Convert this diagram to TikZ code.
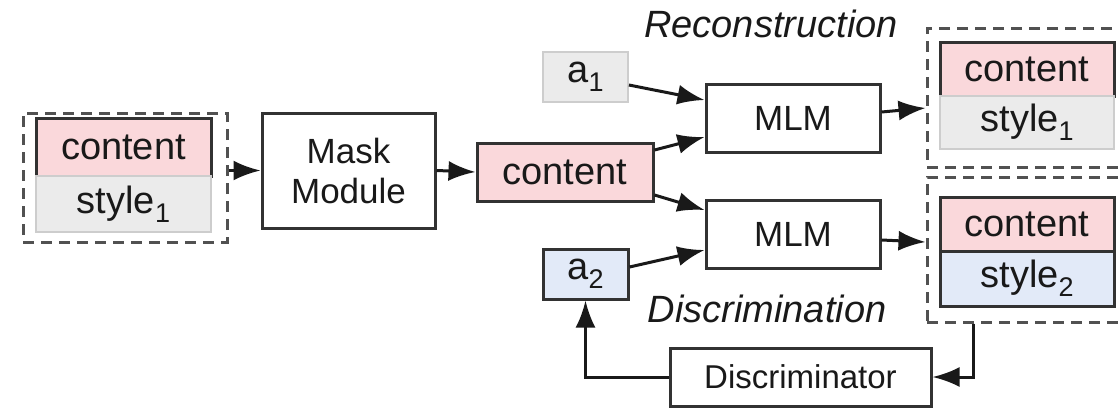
\documentclass[tikz,border=0pt]{standalone}
\usepackage{fontspec}
\setmainfont{Liberation Sans}
\usetikzlibrary{arrows.meta,calc}
\definecolor{pinkc}{RGB}{250,216,219}
\definecolor{grayc}{RGB}{235,235,235}
\definecolor{bluec}{RGB}{226,234,248}
\definecolor{edgec}{RGB}{50,50,50}
\definecolor{lightedge}{RGB}{205,205,205}
\definecolor{txt}{RGB}{25,25,25}
\newcommand\mysub[1]{\raisebox{-0.24em}{\fontsize{27}{27}\selectfont #1}}
\tikzset{
  box/.style={draw=edgec, line width=3pt, inner sep=0pt, align=center, text=txt,
    font=\fontsize{36}{40}\selectfont},
  pinkbox/.style={box, fill=pinkc, font=\fontsize{38}{40}\selectfont},
  graybox/.style={box, fill=grayc, draw=lightedge, line width=1.8pt, font=\fontsize{38}{40}\selectfont},
  bluebox/.style={box, fill=bluec, font=\fontsize{38}{40}\selectfont},
  group/.style={draw=edgec!85, line width=3pt, dash pattern=on 11pt off 7pt},
  arr/.style={draw=black!90, line width=3pt, -{Latex[length=27pt,width=20pt]}},
  label/.style={font=\fontsize{38}{40}\selectfont\itshape, text=txt}
}
\begin{document}
\begin{tikzpicture}[x=1pt,y=-1pt]
\useasboundingbox (0,0) rectangle (1119,408);
\fill[white] (0,0) rectangle (1119,408);
\begin{scope}
\clip (0,0) rectangle (1119,408);
% input group
\node[group, minimum width=204pt, minimum height=129pt] (inG) at (125,177.5) {};
\node[pinkbox, minimum width=175pt, minimum height=58pt] (inC) at (123.5,147) {content};
\node[graybox, minimum width=175pt, minimum height=56pt] (inS) at (123.5,204) {style\mysub{1}};
% mask module
\node[box, minimum width=173pt, minimum height=115pt, font=\fontsize{35}{40}\selectfont] (mask) at (348.5,170.5) {Mask\\Module};
% middle content
\node[pinkbox, minimum width=176pt, minimum height=58pt] (mid) at (565,172) {content};
% attributes
\node[graybox, minimum width=85pt, minimum height=50pt] (a1) at (585.5,77) {a\mysub{1}};
\node[bluebox, minimum width=85pt, minimum height=50pt] (a2) at (585.5,274) {a\mysub{2}};
% MLMs
\node[box, minimum width=174pt, minimum height=68pt, font=\fontsize{35}{40}\selectfont] (mlm1) at (793,118) {MLM};
\node[box, minimum width=174pt, minimum height=68pt, font=\fontsize{35}{40}\selectfont] (mlm2) at (793,234) {MLM};
% output groups
\node[group, minimum width=203pt, minimum height=139pt] (out1) at (1028.5,97.5) {};
\node[pinkbox, minimum width=174pt, minimum height=54pt] (c1) at (1027,69) {content};
\node[graybox, minimum width=174pt, minimum height=53pt] (s1) at (1027,122.5) {style\mysub{1}};
\node[group, minimum width=203pt, minimum height=145pt] (out2) at (1028.5,249.5) {};
\node[pinkbox, minimum width=174pt, minimum height=54pt] (c2) at (1027,224) {content};
\node[bluebox, minimum width=174pt, minimum height=55pt] (s2) at (1027,278.5) {style\mysub{2}};
% discriminator
\node[box, minimum width=261pt, minimum height=58pt, font=\fontsize{33}{40}\selectfont] (disc) at (800.5,377) {Discriminator};
% labels
\node[label] (rec) at (771,24) {Reconstruction};
\node[label] (dis) at (767,309) {Discrimination};
% connectors
\draw[arr] (inG.east |- mask.west) -- (mask.west);
\draw[arr] (mask.east) -- (mid.west);
\draw[arr] ($(a1.east)+(0,8)$) -- ($(mlm1.west)+(0,-18)$);
\draw[arr] ($(mid.east)+(0,-22)$) -- ($(mlm1.west)+(0,19)$);
\draw[arr] ($(mid.east)+(0,23)$) -- ($(mlm2.west)+(0,-24)$);
\draw[arr] ($(a2.east)+(0,-7)$) -- ($(mlm2.west)+(0,16)$);
\draw[arr] ($(mlm1.east)+(0,-6)$) -- ($(out1.west)+(0,10.5)$);
\draw[arr] ($(mlm2.east)+(0,6)$) -- ($(out2.west)+(0,-7.5)$);
\coordinate (drop) at ($(out2.south west)+(48,0)$);
\draw[arr] (drop) |- (disc.east);
\draw[arr] (disc.west) -| (a2.south);
\end{scope}
\end{tikzpicture}
\end{document}
